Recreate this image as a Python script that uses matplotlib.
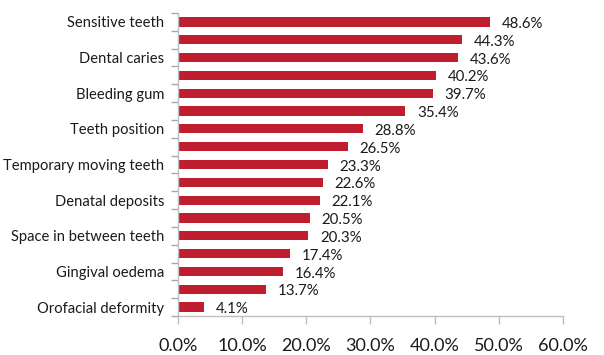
import matplotlib
matplotlib.use("Agg")
import matplotlib.pyplot as plt
import numpy as np
from matplotlib.ticker import FixedLocator, PercentFormatter

# Problems reported, top to bottom (only every other one carries a label)
categories = [
    "Sensitive teeth", "", "Dental caries", "", "Bleeding gum", "",
    "Teeth position", "", "Temporary moving teeth", "", "Denatal deposits", "",
    "Space in between teeth", "", "Gingival oedema", "", "Orofacial deformity",
]
values = [48.6, 44.3, 43.6, 40.2, 39.7, 35.4, 28.8, 26.5, 23.3, 22.6,
          22.1, 20.5, 20.3, 17.4, 16.4, 13.7, 4.1]
x_ticks = [0, 10, 20, 30, 40, 50, 60]

plt.rcParams["font.family"] = ["Lato", "DejaVu Sans"]

fig = plt.figure(figsize=(6.04, 3.55), dpi=100)
ax = fig.add_axes([0.2947, 0.1099, 0.6374, 0.8535])

n = len(values)
y = np.arange(n)
ax.barh(y, values, height=0.52, color="#BE1E2D", zorder=2)

for yi, v in zip(y, values):
    ax.annotate(f"{v:.1f}%", (v, yi), xytext=(8.5, -1.5), textcoords="offset points",
                ha="left", va="center", fontsize=10.8, color="#1a1a1a")

ax.set_ylim(n - 0.5, -0.5)
ax.set_xlim(0, 60)
ax.set_yticks(y)
ax.set_yticklabels(categories, fontsize=10.6, color="#1a1a1a")
ax.yaxis.set_minor_locator(FixedLocator(np.arange(-0.5, n, 1.0)))
ax.tick_params(axis="y", which="major", length=0, pad=10)
ax.tick_params(axis="y", which="minor", length=5, color="#A6A6A6", width=1)

ax.set_xticks(x_ticks)
ax.xaxis.set_major_formatter(PercentFormatter(decimals=1))
ax.tick_params(axis="x", which="major", length=6, color="#BFBFBF", width=1,
               labelsize=13, labelcolor="#1a1a1a", pad=10)

for side in ("top", "right"):
    ax.spines[side].set_visible(False)
for side in ("left", "bottom"):
    ax.spines[side].set_color("#BFBFBF")
    ax.spines[side].set_linewidth(1)

fig.savefig("out.png", dpi=100, facecolor="white")
